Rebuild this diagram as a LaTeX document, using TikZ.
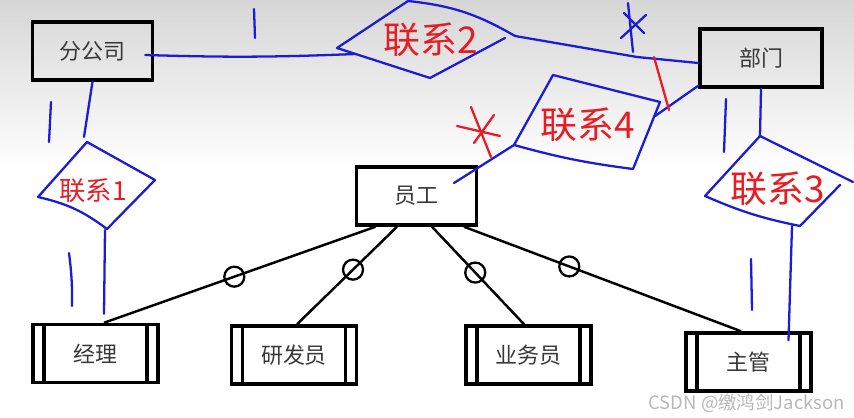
\documentclass[tikz,border=0pt]{standalone}
\usepackage{fontspec}
\newfontfamily\cjk{Noto Sans CJK SC}
\usepackage{tikz}
\usetikzlibrary{calc}
\definecolor{penblue}{RGB}{28,28,215}
\definecolor{penred}{RGB}{232,28,36}
\tikzset{
  erbox/.style={draw, line width=2pt, minimum width=2.4cm, minimum height=1.16cm,
    inner sep=0pt, font=\cjk\fontsize{12.5}{14}\selectfont, text=black!78},
  erweak/.style={erbox, minimum width=2.5cm, path picture={
      \draw[line width=2pt]
        ([xshift=0.22cm]path picture bounding box.north west) -- ([xshift=0.22cm]path picture bounding box.south west)
        ([xshift=-0.22cm]path picture bounding box.north east) -- ([xshift=-0.22cm]path picture bounding box.south east);}},
  erline/.style={line width=1.4pt},
  ermark/.style={circle, draw, line width=1.3pt, minimum size=0.4cm, inner sep=0pt},
  penline/.style={penblue, line width=1.3pt, line cap=round, line join=round},
  penmark/.style={penred, line width=1.3pt, line cap=round},
  pentext/.style={text=penred, font=\cjk\fontsize{#1}{#1}\selectfont, inner sep=0pt},
  pentext/.default=21,
}

\begin{document}
\begin{tikzpicture}[x=0.02cm, y=-0.02cm]
  \useasboundingbox (0,0) rectangle (854,418);
  \fill[white] (0,0) rectangle (854,418);
  \shade[top color=black!16, bottom color=white] (0,0) rectangle (854,170);

  \node[erbox] (branch) at (92.5,51) {分公司};
  \node[erbox, minimum width=2.44cm] (dept) at (761,58) {部门};
  \node[erbox, fill=white] (staff) at (416.5,196) {员工};
  \node[erweak] (mgr) at (95.5,353.5) {经理};
  \node[erweak] (dev) at (294,355) {研发员};
  \node[erweak] (sales) at (528.5,355) {业务员};
  \node[erweak] (lead) at (748.5,362) {主管};

  \draw[erline] ($(staff.south)+(-41,0)$) -- node[ermark, pos=0.52]{} ($(mgr.north)+(8.5,0)$);
  \draw[erline] ($(staff.south)+(-19.5,0)$) -- node[ermark, pos=0.44]{} ($(dev.north)+(3,0)$);
  \draw[erline] ($(staff.south)+(15.5,0)$) -- node[ermark, pos=0.47]{} ($(sales.north)+(-4.5,0)$);
  \draw[erline] ($(staff.south)+(47.5,0)$) -- node[ermark, pos=0.38]{} ($(lead.north)+(-7.5,0)$);

  \coordinate (r1t) at (87,142);
  \coordinate (r1r) at (155,180);
  \coordinate (r1b) at (107,229);
  \coordinate (r1l) at (38,197);
  \draw[penline] (r1b) to[bend right=12] (r1l) -- (r1t) -- (r1r) -- (r1b);
  \node[pentext=15] (rel1) at (93,191) {联系1};

  \coordinate (r2l) at (337,48);
  \coordinate (r2t) at (408,1);
  \coordinate (r2r) at (515,36);
  \coordinate (r2b) at (430,78);
  \draw[penline] (r2r) to[bend right=12] (r2t) -- (r2l) -- (r2b) -- (505,38);
  \node[pentext] (rel2) at (431,40) {联系2};

  \coordinate (r4t) at (553,75);
  \coordinate (r4r) at (660,102);
  \coordinate (r4b) at (633,169);
  \coordinate (r4l) at (514,145);
  \draw[penline] (r4l) -- (r4t) -- (r4r) -- (r4b) to[bend left=4] (r4l);
  \node[pentext] (rel4) at (588,125) {联系4};

  \coordinate (r3t) at (760,136);
  \coordinate (r3r) at (853,182);
  \coordinate (r3b) at (800,226);
  \coordinate (r3l) at (705,196);
  \draw[penline] (r3l) -- (r3t) -- (r3r) (840,185) -- (r3b) to[bend left=6] (r3l);
  \node[pentext] (rel3) at (778,189) {联系3};

  \draw[penline] ($(branch.east)+(-9,4)$) to[bend right=2] ($(r2l)!0.2!(r2b)$);
  \draw[penline] (r2r) -- (637,57) -- ($(dept.west)+(0,5)$);
  \draw[penline] ($(dept.south west)+(0,-3)$) -- ($(r4r)!0.22!(r4b)$);
  \draw[penline] (r4l) -- (454,183);
  \draw[penline] (dept.south) -- (r3t);
  \draw[penline] ($(r3b)+(-8,0)$) -- ($(lead.north)+(40,9)$);
  \draw[penline] (branch.south) -- ($(r1t)+(-3,-5)$);
  \draw[penline] ($(r1b)+(-2,1)$) -- ($(mgr.north)+(8.5,-9)$);

  \draw[penline] (254,9) -- (255,38);
  \draw[penline] (51,102) -- (49,142);
  \draw[penline] (69,253) to[bend left=4] (72,306);
  \draw[penline] (726,99) -- (724,152);
  \draw[penline] (751,259) -- (752,310);
  \draw[penline] (628,3) -- (633,52) (621,38) -- (646,15) (624,13) -- (644,33);

  \draw[penmark] (654,57) -- (669,110);
  \draw[penmark] (471,107) -- (491,157) (457,126) -- (500,136) (494,115) -- (474,143);

  \node[text=black!28, font=\cjk\fontsize{10.5}{12}\selectfont, anchor=east] (mark) at (851,403) {CSDN @缴鸿剑Jackson};
\end{tikzpicture}
\end{document}
